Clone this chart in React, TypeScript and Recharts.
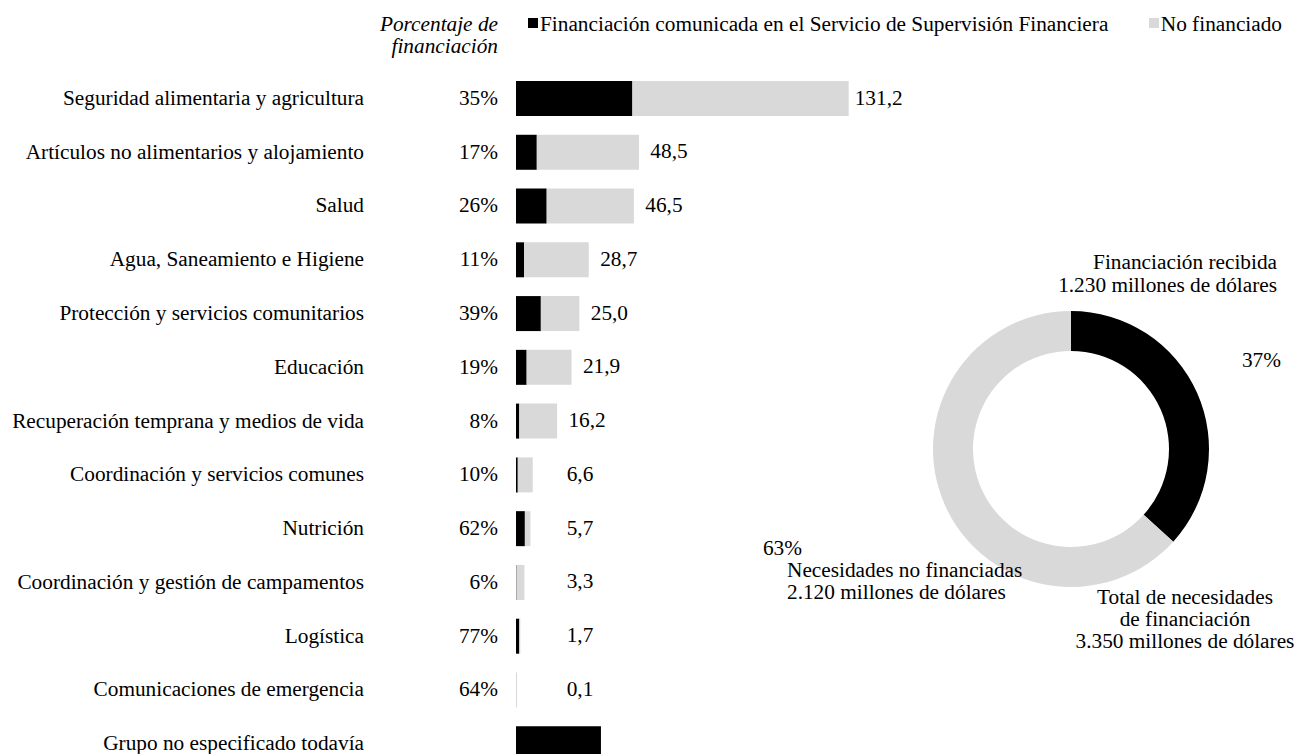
import React from 'react';
import { BarChart, Bar, XAxis, YAxis, LabelList, PieChart, Pie, Cell } from 'recharts';

const categories = [
  'Seguridad alimentaria y agricultura',
  'Artículos no alimentarios y alojamiento',
  'Salud',
  'Agua, Saneamiento e Higiene',
  'Protección y servicios comunitarios',
  'Educación',
  'Recuperación temprana y medios de vida',
  'Coordinación y servicios comunes',
  'Nutrición',
  'Coordinación y gestión de campamentos',
  'Logística',
  'Comunicaciones de emergencia',
  'Grupo no especificado todavía',
];
const fundedPct = [35, 17, 26, 11, 39, 19, 8, 10, 62, 6, 77, 64, null];
const totalRequired = [131.2, 48.5, 46.5, 28.7, 25.0, 21.9, 16.2, 6.6, 5.7, 3.3, 1.7, 0.1, null];
const fundedAmount = [45.9, 8.2, 12.1, 3.2, 9.8, 4.2, 1.3, 0.7, 3.5, 0.2, 1.3, 0.06, 33.5];

const donutLabels = ['Financiación recibida', 'Necesidades no financiadas'];
const donutValues = [1230, 2120];

const BLACK = '#000000';
const GREY = '#D9D9D9';
const FONT = 'Liberation Serif';
const FS = 21.3;

const barData = categories.map((name, i) => ({
  name,
  pct: fundedPct[i],
  total: totalRequired[i],
  funded: fundedAmount[i],
  unfunded: totalRequired[i] == null ? 0 : +(totalRequired[i]! - fundedAmount[i]).toFixed(2),
}));

const pieData = donutLabels.map((name, i) => ({ name, value: donutValues[i] }));

const fmt = (v: number) => v.toFixed(1).replace('.', ',');

const txt = { fontFamily: FONT, fontSize: FS, fill: '#000' };

// category name + funding % column
const CategoryTick = ({ y, payload, index }: any) => {
  const pct = fundedPct[index];
  return (
    <g>
      <text x={364} y={y} dy={6} textAnchor="end" {...txt}>
        {payload.value}
      </text>
      {pct != null && (
        <text x={498} y={y} dy={6} textAnchor="end" {...txt}>
          {pct}%
        </text>
      )}
    </g>
  );
};

const TotalLabel = (props: any) => {
  const { x, y, width, height, value } = props;
  if (value == null) return null;
  const cx = Math.max(x + width + 30, 580);
  return (
    <text x={cx} y={y + height / 2} dy={6} textAnchor="middle" {...txt}>
      {fmt(value)}
    </text>
  );
};

const App = () => {
  return (
    <div style={{ position: 'absolute', left: 0, top: 0, width: 1296, height: 754, overflow: 'hidden', background: '#fff' }}>
      <div style={{ position: 'absolute', left: 0, top: 0 }}>
        <BarChart
          width={960}
          height={800}
          layout="vertical"
          data={barData}
          margin={{ top: 72, right: 89, left: 0, bottom: 29 }}
          barSize={35}
        >
          <XAxis type="number" domain={[0, 140]} hide />
          <YAxis
            type="category"
            dataKey="name"
            width={516}
            axisLine={false}
            tickLine={false}
            interval={0}
            tick={<CategoryTick />}
          />
          <Bar dataKey="funded" stackId="a" fill={BLACK} isAnimationActive={false} />
          <Bar dataKey="unfunded" stackId="a" fill={GREY} isAnimationActive={false}>
            <LabelList dataKey="total" content={<TotalLabel />} />
          </Bar>
        </BarChart>
      </div>

      <div style={{ position: 'absolute', left: 916, top: 294 }}>
        <PieChart width={300} height={300}>
          <Pie
            data={pieData}
            dataKey="value"
            cx={150}
            cy={150}
            innerRadius={98}
            outerRadius={138}
            startAngle={90}
            endAngle={-270}
            stroke="none"
            isAnimationActive={false}
          >
            <Cell fill={BLACK} />
            <Cell fill={GREY} />
          </Pie>
        </PieChart>
      </div>

      <svg width={1296} height={754} style={{ position: 'absolute', left: 0, top: 0, pointerEvents: 'none' }}>
        {/* header */}
        <text x={498} y={31} textAnchor="end" fontStyle="italic" {...txt}>Porcentaje de</text>
        <text x={498} y={53} textAnchor="end" fontStyle="italic" {...txt}>financiación</text>
        <rect x={528} y={18} width={10} height={10} fill={BLACK} />
        <text x={540} y={31} {...txt}>Financiación comunicada en el Servicio de Supervisión Financiera</text>
        <rect x={1149} y={18} width={10} height={10} fill={GREY} />
        <text x={1282} y={31} textAnchor="end" {...txt}>No financiado</text>

        {/* donut annotations */}
        <text x={1277} y={269} textAnchor="end" {...txt}>Financiación recibida</text>
        <text x={1277} y={292} textAnchor="end" {...txt}>1.230 millones de dólares</text>
        <text x={1281} y={367} textAnchor="end" {...txt}>37%</text>
        <text x={802} y={555} textAnchor="end" {...txt}>63%</text>
        <text x={787} y={577} {...txt}>Necesidades no financiadas</text>
        <text x={787} y={599} {...txt}>2.120 millones de dólares</text>
        <text x={1185} y={604} textAnchor="middle" {...txt}>Total de necesidades</text>
        <text x={1185} y={626} textAnchor="middle" {...txt}>de financiación</text>
        <text x={1185} y={648} textAnchor="middle" {...txt}>3.350 millones de dólares</text>
      </svg>
    </div>
  );
};

export default App;
